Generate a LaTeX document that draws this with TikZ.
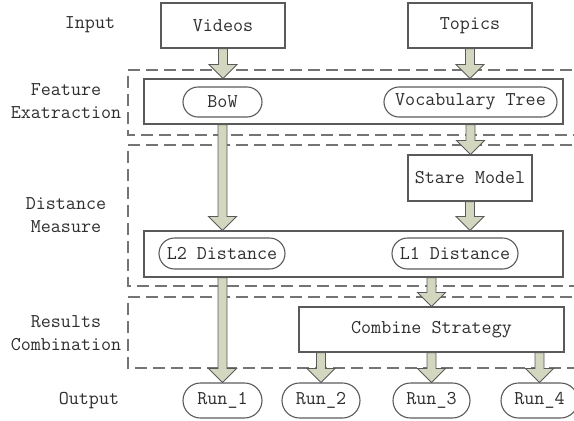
\documentclass[tikz,border=0pt]{standalone}
\usetikzlibrary{shapes.misc,calc}
\definecolor{ink}{HTML}{2E2E2E}
\definecolor{edge}{HTML}{5A5A5A}
\definecolor{dashgray}{HTML}{747474}
\definecolor{arrowfill}{HTML}{D3D7BF}
\tikzset{
  every node/.style={font=\ttfamily\fontsize{19.5}{23}\selectfont, text=ink, inner sep=0pt},
  box/.style={draw=edge, line width=1.1pt, rectangle},
  pill/.style={draw=edge, line width=1.1pt, rounded rectangle},
  region/.style={draw=dashgray, line width=1.1pt, dash pattern=on 12pt off 6pt},
  stage/.style={align=center},
  fatarrow/.style={draw=edge, line width=0.9pt, fill=arrowfill, line join=miter}
}
% thick block arrow from #1 straight down to #2
\newcommand{\blockarrow}[2]{%
  \path[fatarrow] let \p1=#1, \p2=#2 in
    (\x1-4.5pt,\y1) -- (\x1-4.5pt,\y2+14pt) -- (\x1-14pt,\y2+14pt) --
    (\x1,\y2) -- (\x1+14pt,\y2+14pt) -- (\x1+4.5pt,\y2+14pt) --
    (\x1+4.5pt,\y1) -- cycle;}
\begin{document}
\begin{tikzpicture}[x=1pt,y=-1pt]
\useasboundingbox (0,0) rectangle (574,421);

% dashed stage regions
\draw[region] (590,70) -- (128,70) -- (128,135) -- (590,135);
\draw[region] (590,145) -- (128,145) -- (128,286) -- (590,286);
\draw[region] (590,297) -- (128,297) -- (128,368) -- (590,368);

% stage labels
\node[stage] (lin) at (90,25) {Input};
\node[stage] (lfe) at (66,101.5) {Feature\\Exatraction};
\node[stage] (ldm) at (66,215) {Distance\\Measure};
\node[stage] (lrc) at (66,333) {Results\\Combination};
\node[stage] (lout) at (89,401) {Output};

% input
\node[box, minimum width=124pt, minimum height=45pt] (videos) at (223,25.5) {Videos};
\node[box, minimum width=124pt, minimum height=45pt] (topics) at (470,25.5) {Topics};

% feature extraction
\node[box, minimum width=419pt, minimum height=45pt] (feat) at (353.5,101.5) {};
\node[pill, minimum width=79pt, minimum height=30pt] (bow) at (222.5,102) {BoW};
\node[pill, minimum width=173pt, minimum height=30pt] (vtree) at (470.5,102) {Vocabulary Tree};

% distance measure
\node[box, minimum width=124pt, minimum height=46pt] (stare) at (470,178) {Stare Model};
\node[box, minimum width=419pt, minimum height=46pt] (dist) at (353.5,254) {};
\node[pill, minimum width=126pt, minimum height=31pt] (ltwo) at (222,253.5) {L2 Distance};
\node[pill, minimum width=126pt, minimum height=31pt] (lone) at (455,253.5) {L1 Distance};

% results combination
\node[box, minimum width=265pt, minimum height=45pt] (comb) at (431.5,329.5) {Combine Strategy};

% output
\node[pill, minimum width=79pt, minimum height=35pt] (run1) at (222.5,400.5) {Run\_1};
\node[pill, minimum width=78pt, minimum height=35pt] (run2) at (321,400.5) {Run\_2};
\node[pill, minimum width=77pt, minimum height=35pt] (run3) at (431.5,400.5) {Run\_3};
\node[pill, minimum width=77pt, minimum height=35pt] (run4) at (539.5,400.5) {Run\_4};

% flow arrows
\blockarrow{(videos.south)}{(videos |- feat.north)}
\blockarrow{(topics.south)}{(topics |- feat.north)}
\blockarrow{(bow |- feat.south)}{(bow |- dist.north)}
\blockarrow{(vtree |- feat.south)}{(vtree |- stare.north)}
\blockarrow{(stare.south)}{(stare |- dist.north)}
\blockarrow{(run1 |- dist.south)}{(run1.north)}
\blockarrow{(comb |- dist.south)}{(comb.north)}
\blockarrow{(run2 |- comb.south)}{(run2.north)}
\blockarrow{(run3 |- comb.south)}{(run3.north)}
\blockarrow{(run4 |- comb.south)}{(run4.north)}
\end{tikzpicture}
\end{document}
